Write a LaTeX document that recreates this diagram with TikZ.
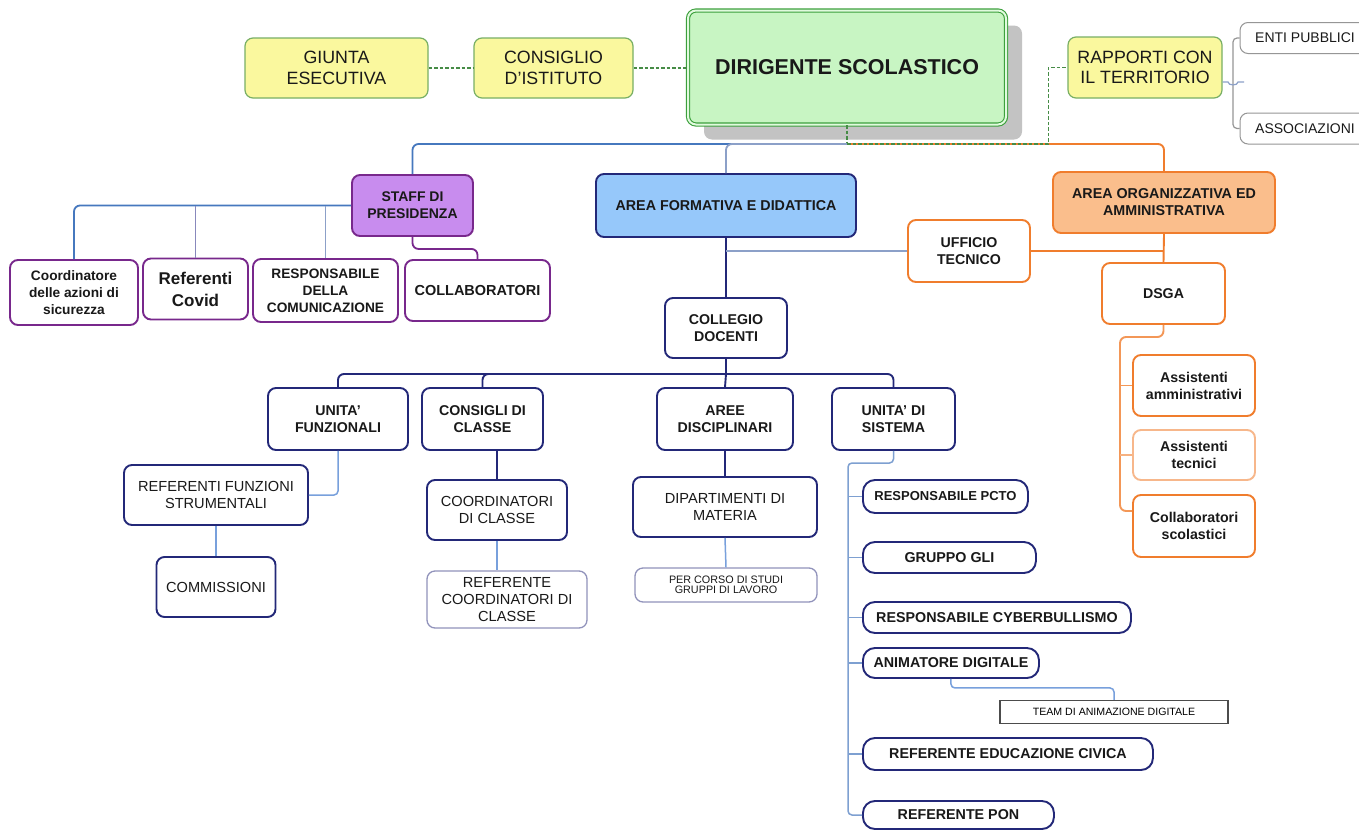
\documentclass[tikz,border=0pt]{standalone}
\usepackage{fontspec}
\setmainfont{Liberation Sans}
\usepackage{tikz}
\usetikzlibrary{shadows}

\definecolor{yfill}{RGB}{250,248,158}
\definecolor{ydraw}{RGB}{120,175,100}
\definecolor{dirfill}{RGB}{200,245,195}
\definecolor{dirdraw}{RGB}{60,160,60}
\definecolor{shadowgray}{RGB}{195,195,195}
\definecolor{stafffill}{RGB}{200,140,238}
\definecolor{staffdraw}{RGB}{120,40,140}
\definecolor{formfill}{RGB}{150,200,250}
\definecolor{navy}{RGB}{35,40,120}
\definecolor{orgfill}{RGB}{250,190,140}
\definecolor{orgdraw}{RGB}{240,125,45}
\definecolor{blueline}{RGB}{70,120,190}
\definecolor{bluegray}{RGB}{140,160,200}
\definecolor{lightline}{RGB}{120,160,220}
\definecolor{greendash}{RGB}{70,140,70}
\definecolor{boxgray}{RGB}{150,150,150}
\newcommand{\fsz}[2]{\fontsize{#1}{#2}\selectfont}

\tikzset{
  box/.style={rounded corners=8pt, line width=1.9pt, align=center, inner sep=2pt, text=black!90},
  yellowbox/.style={box, draw=ydraw, fill=yfill, line width=1.2pt, font=\fsz{17.8}{20.5}},
  dirbox/.style={box, draw=dirdraw, fill=dirfill, line width=1.1pt, double=dirfill!55!white,
    double distance=2pt, font=\fsz{21.5}{24}\bfseries,
    drop shadow={shadow xshift=16pt, shadow yshift=-15pt, fill=shadowgray, opacity=1}},
  graybox/.style={box, draw=boxgray, fill=white, line width=1pt, font=\fsz{14}{16}},
  staffbox/.style={box, draw=staffdraw, fill=stafffill, font=\fsz{14}{17}\bfseries},
  purplebox/.style={box, draw=staffdraw, fill=white, font=\fsz{13.7}{17}\bfseries},
  formbox/.style={box, draw=navy, fill=formfill, font=\fsz{14.3}{17}\bfseries},
  orgbox/.style={box, draw=orgdraw, fill=orgfill, font=\fsz{14.3}{17}\bfseries},
  orangebox/.style={box, draw=orgdraw, fill=white, font=\fsz{14.2}{17}\bfseries},
  navybox/.style={box, draw=navy, fill=white, font=\fsz{14.2}{17}\bfseries},
  plainbox/.style={box, draw=navy, fill=white, font=\fsz{14.6}{17}},
  sysbox/.style={box, rounded corners=12pt, draw=navy, fill=white, anchor=west, font=\fsz{14.3}{16}\bfseries},
  greenlink/.style={draw=greendash, line width=1.8pt, dash pattern=on 3.5pt off 2pt},
  bluelink/.style={draw=blueline, line width=1.8pt, rounded corners=6pt},
  graylink/.style={draw=bluegray, line width=1.8pt, rounded corners=6pt},
  navylink/.style={draw=navy, line width=1.9pt, rounded corners=6pt},
  lightlink/.style={draw=lightline, line width=1.5pt, rounded corners=4pt},
  orangelink/.style={draw=orgdraw, line width=1.9pt, rounded corners=6pt},
}

\begin{document}
\begin{tikzpicture}[x=1pt, y=-1pt]
\useasboundingbox (0,0) rectangle (1359,830);
\fill[white] (0,0) rectangle (1359,830);

\node[yellowbox, minimum width=183pt, minimum height=60pt] (giunta) at (336.5,68) {GIUNTA\\ESECUTIVA};
\node[yellowbox, minimum width=159pt, minimum height=60pt] (consiglio) at (553.5,68) {CONSIGLIO\\D'ISTITUTO};
\node[dirbox, minimum width=318pt, minimum height=114pt] (dirigente) at (847,67.5) {DIRIGENTE SCOLASTICO};
\node[yellowbox, minimum width=154pt, minimum height=61pt] (rapporti) at (1145,67.5) {RAPPORTI CON\\IL TERRITORIO};
\node[graybox, minimum width=130pt, minimum height=31pt] (enti) at (1305,38) {ENTI PUBBLICI};
\node[graybox, minimum width=130pt, minimum height=31pt] (assoc) at (1305,128.5) {ASSOCIAZIONI};

\node[staffbox, minimum width=121pt, minimum height=61pt] (staff) at (412.5,205.5) {STAFF DI\\PRESIDENZA};
\node[formbox, minimum width=260pt, minimum height=63pt] (areaform) at (726,205.5) {AREA FORMATIVA E DIDATTICA};
\node[orgbox, minimum width=222pt, minimum height=61pt] (areaorg) at (1164,202.5) {AREA ORGANIZZATIVA ED\\AMMINISTRATIVA};

\node[purplebox, minimum width=128pt, minimum height=65pt] (coord) at (74,292.5) {Coordinatore\\delle azioni di\\sicurezza};
\node[purplebox, minimum width=105pt, minimum height=61pt, font=\fsz{17}{22}\bfseries] (covid) at (195.5,289) {Referenti\\Covid};
\node[purplebox, minimum width=145pt, minimum height=63pt] (comunic) at (325.5,290.5) {RESPONSABILE\\DELLA\\COMUNICAZIONE};
\node[purplebox, minimum width=145pt, minimum height=61pt, font=\fsz{14.5}{17}\bfseries] (collab) at (477.5,290.5) {COLLABORATORI};

\node[orangebox, minimum width=122pt, minimum height=62pt] (ufficio) at (969,251) {UFFICIO\\TECNICO};
\node[orangebox, minimum width=123pt, minimum height=61pt] (dsga) at (1163.5,293.5) {DSGA};
\node[orangebox, minimum width=122pt, minimum height=61pt] (assamm) at (1194,385.5) {Assistenti\\amministrativi};
\node[orangebox, draw=orgdraw!55, minimum width=122pt, minimum height=50pt] (asstec) at (1194,455) {Assistenti\\tecnici};
\node[orangebox, minimum width=122pt, minimum height=62pt] (collsc) at (1194,526) {Collaboratori\\scolastici};

\node[navybox, minimum width=122pt, minimum height=60pt] (collegio) at (726,328) {COLLEGIO\\DOCENTI};
\node[navybox, minimum width=140pt, minimum height=62pt] (unitaf) at (338,419) {UNITA'\\FUNZIONALI};
\node[navybox, minimum width=121pt, minimum height=62pt] (consigli) at (482.5,419) {CONSIGLI DI\\CLASSE};
\node[navybox, minimum width=136pt, minimum height=62pt] (aree) at (725,419) {AREE\\DISCIPLINARI};
\node[navybox, minimum width=123pt, minimum height=62pt] (unitas) at (893.5,419) {UNITA' DI\\SISTEMA};

\node[plainbox, minimum width=184pt, minimum height=60pt] (reffunz) at (216,495) {REFERENTI FUNZIONI\\STRUMENTALI};
\node[plainbox, minimum width=119pt, minimum height=60pt] (commiss) at (216,587) {COMMISSIONI};
\node[plainbox, minimum width=140pt, minimum height=60pt] (coordcl) at (497,510) {COORDINATORI\\DI CLASSE};
\node[plainbox, draw=navy!50, line width=1.3pt, minimum width=160pt, minimum height=57pt] (refcoord) at (507,599.5) {REFERENTE\\COORDINATORI DI\\CLASSE};
\node[plainbox, minimum width=184pt, minimum height=60pt] (dipart) at (725,507) {DIPARTIMENTI DI\\MATERIA};
\node[plainbox, draw=navy!50, line width=1.3pt, minimum width=182pt, minimum height=34pt, font=\fsz{10.8}{9.5}] (percorso) at (726,585) {PER CORSO DI STUDI\\GRUPPI DI LAVORO};

\node[sysbox, minimum width=165pt, minimum height=33pt, font=\fsz{13}{16}\bfseries] (pcto) at (862,496.5) {RESPONSABILE PCTO};
\node[sysbox, minimum width=173pt, minimum height=31pt] (gli) at (862,557.5) {GRUPPO GLI};
\node[sysbox, minimum width=268pt, minimum height=31pt] (cyber) at (862,617.5) {RESPONSABILE CYBERBULLISMO};
\node[sysbox, minimum width=176pt, minimum height=30pt] (animatore) at (862,663) {ANIMATORE DIGITALE};
\node[draw=black!70, line width=1.1pt, fill=white, minimum width=228pt, minimum height=23pt, inner sep=1pt, font=\fsz{10.6}{11}] (team) at (1114,712) {TEAM DI ANIMAZIONE DIGITALE};
\node[sysbox, minimum width=290pt, minimum height=32pt] (civica) at (862,754) {REFERENTE EDUCAZIONE CIVICA};
\node[sysbox, minimum width=191pt, minimum height=28pt] (pon) at (862,815) {REFERENTE PON};

\coordinate (top) at (847,144);
\coordinate (brk) at (1233,82);
\coordinate (dsgatrunk) at (1120,337);
\coordinate (hub) at (726,374);
\coordinate (sistrunk) at (848,463);

\draw[greenlink] (giunta) -- (consiglio);
\draw[greenlink] (consiglio.east) -- (consiglio.east -| dirigente.west);
\draw[greenlink] (dirigente.south) -- (top);
\draw[bluelink] (top) -| (staff.north);
\draw[graylink] (areaform.north) |- (top);
\draw[orangelink] (top) -| (areaorg.north);
\draw[greenlink] (top) -| ([xshift=-19pt]rapporti.west) -- (rapporti.west);

\draw[draw=boxgray, line width=1.2pt, rounded corners=4pt] (enti.west) -| (brk) |- (assoc.west);
\draw[draw=bluegray, line width=1.2pt] (rapporti.east |- brk) -- ([xshift=-5pt]brk) to[out=-90,in=-90] ([xshift=5pt]brk) -- ([xshift=11pt]brk);

\draw[bluelink] (staff.west) -| (coord.north);
\draw[draw=bluegray!80!staffdraw, line width=1.7pt] (covid.north) -- (covid.north |- staff.west);
\draw[graylink] (comunic.north) -- (comunic.north |- staff.west);
\draw[draw=staffdraw, line width=1.8pt, rounded corners=6pt] (staff.south) -- ++(0,12) -| (collab.north);

\draw[navylink] (areaform.south) -- (collegio.north);
\draw[graylink] (ufficio.west) -- (ufficio.west -| areaform.south);
\draw[orangelink] (ufficio.east) -- (ufficio.east -| areaorg.south);
\draw[orangelink] (areaorg.south) -- (dsga.north);
\draw[orangelink, draw=orgdraw!80] (dsga.south) |- (dsgatrunk) |- ([yshift=15pt]collsc.west);
\draw[orangelink, draw=orgdraw!80] (assamm.west) -- (assamm.west -| dsgatrunk);
\draw[orangelink, draw=orgdraw!60] (asstec.west) -- (asstec.west -| dsgatrunk);

\draw[navylink] (collegio.south) -- (hub);
\draw[navylink] (unitaf.north) |- (hub) -| (unitas.north);
\draw[navylink] (consigli.north) |- (hub);
\draw[navylink] (hub) -- (aree.north);

\draw[lightlink] (unitaf.south) |- (reffunz.east);
\draw[lightlink] (reffunz.south) -- (commiss.north);
\draw[navylink] (coordcl.north |- consigli.south) -- (coordcl.north);
\draw[lightlink] (coordcl.south) -- (coordcl.south |- refcoord.north);
\draw[navylink] (aree.south) -- (dipart.north);
\draw[lightlink] (dipart.south) -- (percorso.north);

\draw[lightlink, draw=blueline!70] (unitas.south) |- (sistrunk) |- (pon.west);
\foreach \n in {pcto,gli,cyber,animatore,civica}
  \draw[lightlink, draw=blueline!70] (\n.west) -- (\n.west -| sistrunk);
\draw[lightlink] (animatore.south) |- ([yshift=12pt]team.north) -- (team.north);
\end{tikzpicture}
\end{document}
